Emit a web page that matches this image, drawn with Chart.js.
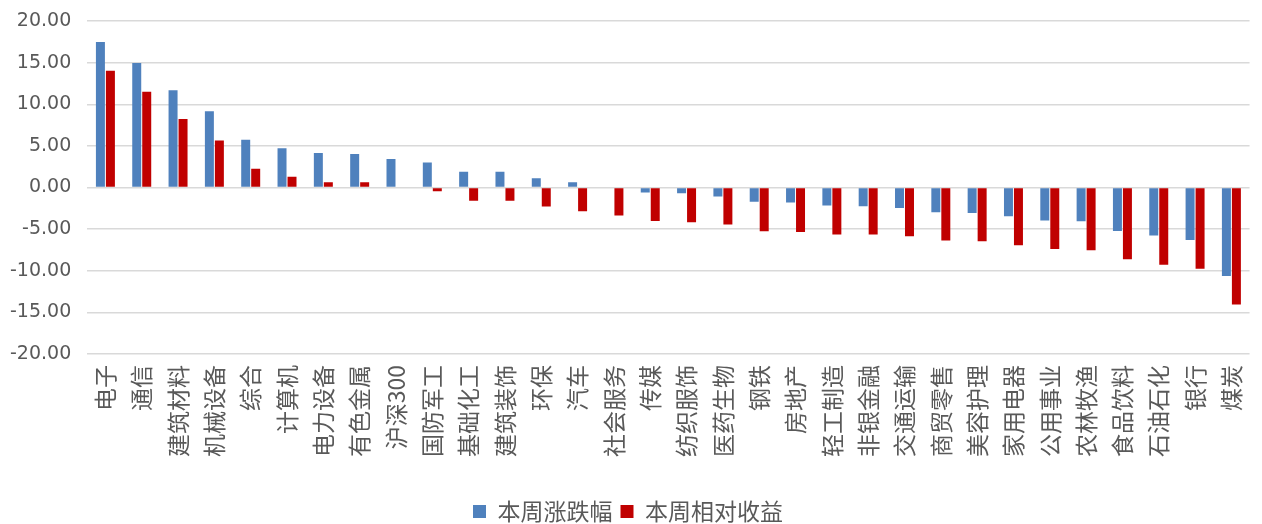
<!DOCTYPE html>
<html>
<head>
<meta charset="utf-8">
<script src="https://cdn.jsdelivr.net/npm/chart.js@4/dist/chart.umd.min.js"></script>
<style>
  html, body { margin: 0; padding: 0; background: #fff; }
  #wrap { width: 1262px; height: 524px; }
</style>
</head>
<body>
<div id="wrap"><canvas id="chart"></canvas></div>
<script>
// industries, sorted by weekly change
const categories = ['电子', '通信', '建筑材料', '机械设备', '综合', '计算机', '电力设备', '有色金属', '沪深300',
    '国防军工', '基础化工', '建筑装饰', '环保', '汽车', '社会服务', '传媒', '纺织服饰', '医药生物', '钢铁',
    '房地产', '轻工制造', '非银金融', '交通运输', '商贸零售', '美容护理', '家用电器', '公用事业', '农林牧渔',
    '食品饮料', '石油石化', '银行', '煤炭'];

const weeklyChange = [17.47, 14.94, 11.69, 9.16, 5.74, 4.70, 4.14, 4.02, 3.42,
    3.01, 1.89, 1.89, 1.12, 0.64, 0.00, -0.60, -0.68, -1.08, -1.72,
    -1.80, -2.17, -2.25, -2.45, -2.97, -3.05, -3.45, -3.97, -4.05,
    -5.22, -5.78, -6.30, -10.64];

const relativeReturn = [14.02, 11.49, 8.24, 5.66, 2.25, 1.29, 0.64, 0.64, 0.00,
    -0.44, -1.60, -1.60, -2.29, -2.85, -3.37, -4.01, -4.17, -4.45, -5.26,
    -5.34, -5.66, -5.66, -5.86, -6.38, -6.46, -6.94, -7.39, -7.55,
    -8.63, -9.27, -9.76, -14.05];

const seriesNames = ['本周涨跌幅', '本周相对收益'];
const yMin = -20, yMax = 20, yStep = 5;

const textColor = '#595959';
const fontFamily = "'Noto Sans CJK SC', 'Microsoft YaHei', sans-serif";

new Chart(document.getElementById('chart'), {
    type: 'bar',
    data: {
        labels: categories,
        datasets: [{
            label: seriesNames[0],
            data: weeklyChange,
            backgroundColor: '#4F81BD',
            categoryPercentage: 0.55,
            barPercentage: 0.9
        }, {
            label: seriesNames[1],
            data: relativeReturn,
            backgroundColor: '#C00000',
            categoryPercentage: 0.55,
            barPercentage: 0.9
        }]
    },
    options: {
        responsive: true,
        maintainAspectRatio: false,
        animation: false,
        devicePixelRatio: 1,
        layout: { padding: { top: 21, left: -6, right: 0, bottom: -9 } },
        plugins: {
            legend: {
                position: 'bottom',
                labels: {
                    boxWidth: 13,
                    boxHeight: 13,
                    padding: 8,
                    color: textColor,
                    font: { family: fontFamily, size: 23 }
                }
            },
            tooltip: { enabled: false }
        },
        scales: {
            x: {
                grid: { display: false },
                border: { display: false },
                afterFit: scale => { scale.height = 138; },
                ticks: {
                    color: textColor,
                    autoSkip: false,
                    minRotation: 90,
                    maxRotation: 90,
                    padding: 3,
                    font: { family: fontFamily, size: 23 }
                }
            },
            y: {
                min: yMin,
                max: yMax,
                border: { display: false },
                grid: { color: '#D9D9D9', lineWidth: 1.5, drawTicks: false },
                // the tick padding is only meant to be horizontal here
                afterFit: scale => { scale.paddingTop = 0; scale.paddingBottom = 0; },
                ticks: {
                    stepSize: yStep,
                    color: textColor,
                    padding: 16,
                    font: { family: "'DejaVu Sans', sans-serif", size: 19 },
                    callback: v => v.toFixed(2)
                }
            }
        }
    }
});
</script>
</body>
</html>
